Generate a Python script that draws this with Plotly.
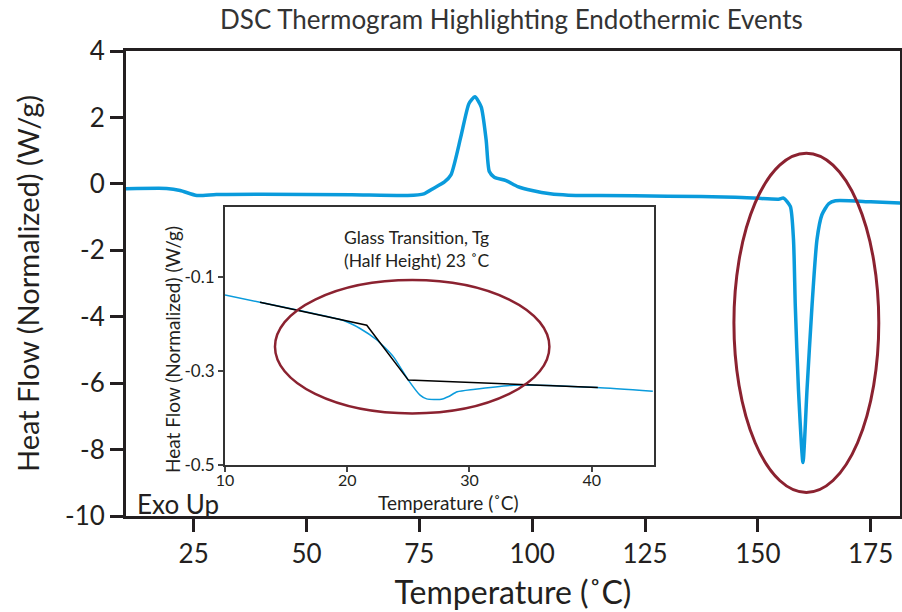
import plotly.graph_objects as go

# main thermogram
temp_main = [10, 19, 22, 25.7, 30, 40, 60, 72.4, 76, 78.2, 80.5, 82, 84.2, 86, 87.3,
             88.7, 89.8, 90.5, 91.6, 94.2, 96.8, 100, 104, 108, 115, 130, 145, 154.6,
             155.7, 157.2, 157.9, 158.3, 159, 160, 160.9, 162, 163.1, 164.2, 165.7,
             167.2, 175, 182]
hf_main = [-0.15, -0.14, -0.2, -0.35, -0.32, -0.31, -0.33, -0.35, -0.3, -0.13, 0.05,
           0.27, 1.42, 2.42, 2.62, 2.32, 1.32, 0.37, 0.2, 0.1, -0.08, -0.2, -0.3, -0.34,
           -0.35, -0.37, -0.4, -0.46, -0.43, -0.68, -1.68, -3.68, -6.19, -8.39, -6.19,
           -3.68, -1.68, -0.93, -0.6, -0.51, -0.54, -0.58]
main_yticks = [-10, -8, -6, -4, -2, 0, 2, 4]
main_xticks = [25, 50, 75, 100, 125, 150, 175]

# glass transition zoom
temp_tg = [10, 12.86, 16, 19.7, 21.05, 22.4, 23.77, 25, 25.96, 26.5, 27.7, 28.3, 29,
           30.3, 33.6, 40.4, 45]
hf_tg = [-0.1375, -0.153, -0.17, -0.192, -0.209, -0.233, -0.269, -0.319, -0.351,
         -0.359, -0.36, -0.354, -0.344, -0.339, -0.33, -0.335, -0.343]
inset_yticks = [-0.5, -0.3, -0.1]
inset_xticks = [10, 20, 30, 40]

# tangent construction
temp_tan = [12.86, 21.6, 25, 40.5]
hf_tan = [-0.153, -0.202, -0.319, -0.335]

blue = '#0A9BDC'
dark = '#231F20'
red = '#8B2230'
font = 'Lato'

fig = go.Figure()
fig.add_trace(go.Scatter(x=temp_main, y=hf_main, mode='lines',
                         line=dict(color=blue, width=3.5, shape='spline', smoothing=0.6),
                         showlegend=False, xaxis='x', yaxis='y'))
fig.add_trace(go.Scatter(x=temp_tg, y=hf_tg, mode='lines',
                         line=dict(color=blue, width=1.5, shape='spline', smoothing=0.6),
                         showlegend=False, xaxis='x2', yaxis='y2'))
fig.add_trace(go.Scatter(x=temp_tan, y=hf_tan, mode='lines',
                         line=dict(color='black', width=1.5),
                         showlegend=False, xaxis='x2', yaxis='y2'))

fig.add_shape(type='circle', xref='x', yref='y', x0=144.7, x1=176.8, y0=-9.29, y1=0.92,
              line=dict(color=red, width=3))
fig.add_shape(type='circle', xref='x2', yref='y2', x0=14.09, x1=36.54, y0=-0.39, y1=-0.1056,
              line=dict(color=red, width=2.5))

fig.add_annotation(text='Glass Transition, Tg<br>(Half Height) 23 ˚C', xref='x2', yref='y2',
                   x=25.7, y=-0.04, yanchor='middle', showarrow=False,
                   font=dict(size=17.5, color=dark, family=font))
fig.add_annotation(text='Exo Up', xref='paper', yref='paper', x=0.012, y=-0.012, xanchor='left',
                   yanchor='bottom', showarrow=False, font=dict(size=26, color=dark, family=font))
# inset axis titles
fig.add_annotation(text='Temperature (˚C)', xref='x2', yref='paper', x=28.25, y=0.028,
                   yanchor='middle', showarrow=False, font=dict(size=19, color=dark, family=font))
fig.add_annotation(text='Heat Flow (Normalized) (W/g)', xref='paper', yref='paper',
                   x=0.0594, y=0.359, textangle=-90, xanchor='center', yanchor='middle',
                   showarrow=False, font=dict(size=19, color=dark, family=font))

fig.update_layout(
    width=902, height=612,
    margin=dict(l=126, r=2, t=51, b=96),
    plot_bgcolor='white', paper_bgcolor='white',
    font=dict(family=font, color=dark),
    title=dict(text='DSC Thermogram Highlighting Endothermic Events', x=0.567, y=0.967,
               xanchor='center', yanchor='middle',
               font=dict(size=26, color='#333333', family=font)),
    xaxis=dict(range=[10, 181.5], tickvals=main_xticks, automargin=False,
               showgrid=False, zeroline=False, showline=True, linecolor=dark, linewidth=3,
               mirror=True, ticks='outside', ticklen=13, tickwidth=3, tickcolor=dark,
               tickfont=dict(size=26), title=dict(text='Temperature (˚C)', font=dict(size=32),
                                                   standoff=14)),
    yaxis=dict(range=[-10, 4], tickvals=main_yticks, ticktext=[str(v) for v in main_yticks],
               automargin=False,
               showgrid=False, zeroline=False, showline=True, linecolor=dark, linewidth=3,
               mirror=True, ticks='outside', ticklen=13, tickwidth=3, tickcolor=dark,
               tickfont=dict(size=26),
               title=dict(text='Heat Flow (Normalized) (W/g)', font=dict(size=29), standoff=17)),
    xaxis2=dict(domain=[0.1279, 0.6822], anchor='y2', range=[10, 45.1], automargin=False,
                tickvals=inset_xticks, showgrid=False, zeroline=False, showline=True,
                linecolor='#333333', linewidth=2, mirror=True, ticks='outside', ticklen=5,
                tickwidth=1.5, tickfont=dict(size=16), ticklabelstandoff=-5),
    yaxis2=dict(domain=[0.1097, 0.6645], anchor='x2', range=[-0.5, 0.05], automargin=False,
                tickvals=inset_yticks, ticktext=[str(v) for v in inset_yticks],
                showgrid=False, zeroline=False, showline=True,
                linecolor='#333333', linewidth=2, mirror=True, ticks='outside', ticklen=5,
                tickwidth=1.5, tickfont=dict(size=17)),
)

# drop the default page margin so the 902x612 figure fills the window exactly
fig.write_html('out.html', config={'displayModeBar': False},
               post_script="document.body.style.margin='0';")
